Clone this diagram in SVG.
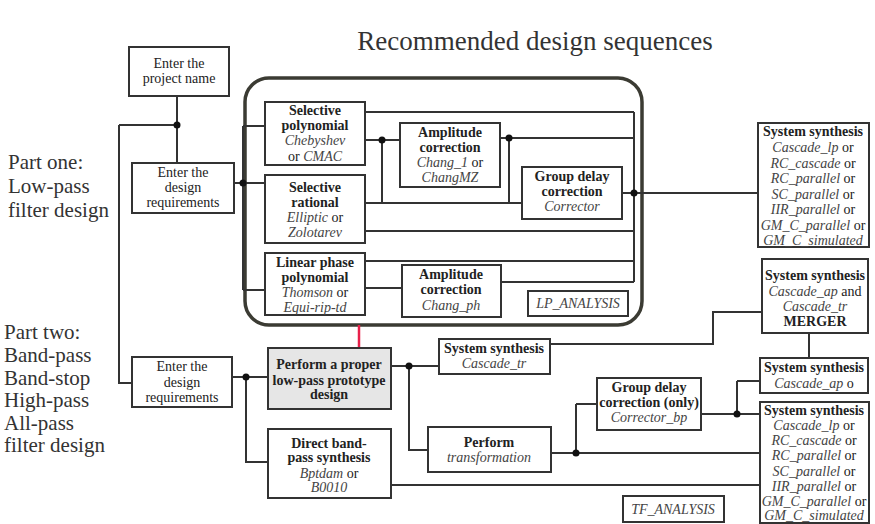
<svg xmlns="http://www.w3.org/2000/svg" width="875" height="524" viewBox="0 0 875 524">
  <style>
    text { font-family: "Liberation Serif", "Times New Roman", serif; fill: #222; }
    .box { fill: #fff; stroke: #333; stroke-width: 2; }
    .grey { fill: #e6e6e6; }
    .lbl { font-size: 14px; text-anchor: middle; }
    .b { font-weight: bold; }
    .i { font-style: italic; fill: #444; }
    .side { font-size: 21px; fill: #333; }
    .title { font-size: 27px; text-anchor: middle; fill: #333; }
    .wire { fill: none; stroke: #333; stroke-width: 2; }
    .dot { fill: #111; }
  </style>

  <text class="title" x="535" y="50">Recommended design sequences</text>

  <!-- section headings -->
  <text class="side" x="8" y="169">Part one:</text>
  <text class="side" x="8" y="193">Low-pass</text>
  <text class="side" x="8" y="217">filter design</text>
  <text class="side" x="4" y="339">Part two:</text>
  <text class="side" x="4" y="362">Band-pass</text>
  <text class="side" x="4" y="385">Band-stop</text>
  <text class="side" x="4" y="407">High-pass</text>
  <text class="side" x="4" y="430">All-pass</text>
  <text class="side" x="4" y="452">filter design</text>

  <!-- low-pass analysis frame -->
  <rect x="245" y="78" width="397" height="247" rx="24" fill="none" stroke="#3b3b33" stroke-width="3.5"/>

  <g id="connectors">
    <!-- project name to both requirement boxes -->
    <path class="wire" d="M177 96 V163 M119 125 H177 M119 125 V383 H132"/>
    <!-- low-pass requirements fan-out -->
    <path class="wire" d="M234 183 H265 M243 126 V290 M243 126 H265 M243 290 H265"/>
    <!-- approximation outputs -->
    <path class="wire" d="M365 112 H634 M365 140 H400 M382 140 V203 M365 203 H522 M500 138 H634 M509 138 V203 M365 231 H634 M365 261 H634 M365 288 H402 M501 282 H634 M634 112 V282 M622 193 H758"/>
    <!-- prototype link -->
    <path d="M359 325 V348" fill="none" stroke="#e8204a" stroke-width="2.5"/>
    <!-- part two -->
    <path class="wire" d="M232 377 H268 M246 377 V462 H268 M391 366 H439 M409 366 V450 H428 M550 344 H713 V312 H762 M809 333 V358 M551 453 H760 M576 404 V453 M576 404 H597 M701 414 H760 M737 381 V414 M737 381 H760 M391 485 H760"/>
    <circle class="dot" cx="177" cy="125" r="3.5"/>
    <circle class="dot" cx="243" cy="183" r="3.5"/>
    <circle class="dot" cx="382" cy="140" r="3.5"/>
    <circle class="dot" cx="509" cy="138" r="3.5"/>
    <circle class="dot" cx="634" cy="193" r="3.5"/>
    <circle class="dot" cx="246" cy="377" r="3.5"/>
    <circle class="dot" cx="409" cy="366" r="3.5"/>
    <circle class="dot" cx="576" cy="453" r="3.5"/>
    <circle class="dot" cx="737" cy="414" r="3.5"/>
  </g>

  <g id="project-name">
    <rect class="box" x="129" y="47" width="100" height="49"/>
    <text class="lbl" x="179" y="68">Enter the</text>
    <text class="lbl" x="179" y="83">project name</text>
  </g>

  <g id="lp-requirements">
    <rect class="box" x="132" y="163" width="102" height="50"/>
    <text class="lbl" x="183" y="177">Enter the</text>
    <text class="lbl" x="183" y="192">design</text>
    <text class="lbl" x="183" y="207">requirements</text>
  </g>

  <g id="selective-polynomial">
    <rect class="box" x="265" y="102" width="100" height="63"/>
    <text class="lbl b" x="315" y="115">Selective</text>
    <text class="lbl b" x="315" y="130">polynomial</text>
    <text class="lbl i" x="315" y="145">Chebyshev</text>
    <text class="lbl" x="315" y="161">or <tspan class="i">CMAC</tspan></text>
  </g>

  <g id="selective-rational">
    <rect class="box" x="265" y="175" width="100" height="68"/>
    <text class="lbl b" x="315" y="192">Selective</text>
    <text class="lbl b" x="315" y="207">rational</text>
    <text class="lbl" x="315" y="222"><tspan class="i">Elliptic</tspan> or</text>
    <text class="lbl i" x="315" y="237">Zolotarev</text>
  </g>

  <g id="linear-phase">
    <rect class="box" x="265" y="253" width="100" height="62"/>
    <text class="lbl b" x="315" y="267">Linear phase</text>
    <text class="lbl b" x="315" y="282">polynomial</text>
    <text class="lbl" x="315" y="297"><tspan class="i">Thomson</tspan> or</text>
    <text class="lbl i" x="315" y="312">Equi-rip-td</text>
  </g>

  <g id="amplitude-correction">
    <rect class="box" x="400" y="123" width="100" height="64"/>
    <text class="lbl b" x="450" y="137">Amplitude</text>
    <text class="lbl b" x="450" y="152">correction</text>
    <text class="lbl" x="450" y="167"><tspan class="i">Chang_1</tspan> or</text>
    <text class="lbl i" x="450" y="182">ChangMZ</text>
  </g>

  <g id="group-delay-correction">
    <rect class="box" x="522" y="167" width="100" height="52"/>
    <text class="lbl b" x="572" y="181">Group delay</text>
    <text class="lbl b" x="572" y="196">correction</text>
    <text class="lbl i" x="572" y="211">Corrector</text>
  </g>

  <g id="amplitude-correction-ph">
    <rect class="box" x="402" y="265" width="99" height="52"/>
    <text class="lbl b" x="451" y="279">Amplitude</text>
    <text class="lbl b" x="451" y="294">correction</text>
    <text class="lbl i" x="451" y="310">Chang_ph</text>
  </g>

  <g id="lp-analysis">
    <rect class="box" x="528" y="291" width="100" height="25"/>
    <text class="lbl i" x="578" y="308">LP_ANALYSIS</text>
  </g>

  <g id="lp-synthesis">
    <rect class="box" x="758" y="123" width="111" height="124"/>
    <text class="lbl b" x="813" y="136">System synthesis</text>
    <text class="lbl" x="813" y="152"><tspan class="i">Cascade_lp</tspan> or</text>
    <text class="lbl" x="813" y="168"><tspan class="i">RC_cascade</tspan>  or</text>
    <text class="lbl" x="813" y="183"><tspan class="i">RC_parallel</tspan> or</text>
    <text class="lbl" x="813" y="199"><tspan class="i">SC_parallel</tspan> or</text>
    <text class="lbl" x="813" y="214"><tspan class="i">IIR_parallel</tspan>  or</text>
    <text class="lbl" x="813" y="230"><tspan class="i">GM_C_parallel</tspan> or</text>
    <text class="lbl i" x="813" y="245">GM_C_simulated</text>
  </g>

  <g id="bp-requirements">
    <rect class="box" x="132" y="357" width="100" height="50"/>
    <text class="lbl" x="182" y="371">Enter the</text>
    <text class="lbl" x="182" y="387">design</text>
    <text class="lbl" x="182" y="402">requirements</text>
  </g>

  <g id="prototype-design">
    <rect class="box grey" x="268" y="348" width="123" height="61"/>
    <text class="lbl b" x="329" y="369">Perform a proper</text>
    <text class="lbl b" x="329" y="385">low-pass prototype</text>
    <text class="lbl b" x="329" y="399">design</text>
  </g>

  <g id="direct-bandpass">
    <rect class="box" x="268" y="429" width="123" height="69"/>
    <text class="lbl b" x="329" y="448">Direct band-</text>
    <text class="lbl b" x="329" y="462">pass synthesis</text>
    <text class="lbl" x="329" y="478"><tspan class="i">Bptdam</tspan> or</text>
    <text class="lbl i" x="329" y="492">B0010</text>
  </g>

  <g id="cascade-tr">
    <rect class="box" x="439" y="339" width="111" height="35"/>
    <text class="lbl b" x="494" y="353">System synthesis</text>
    <text class="lbl i" x="494" y="368">Cascade_tr</text>
  </g>

  <g id="transformation">
    <rect class="box" x="428" y="427" width="123" height="45"/>
    <text class="lbl b" x="489" y="447">Perform</text>
    <text class="lbl i" x="489" y="462">transformation</text>
  </g>

  <g id="group-delay-only">
    <rect class="box" x="597" y="378" width="104" height="52"/>
    <text class="lbl b" x="649" y="392">Group delay</text>
    <text class="lbl b" x="649" y="407">correction (only)</text>
    <text class="lbl i" x="649" y="422">Corrector_bp</text>
  </g>

  <g id="merger">
    <rect class="box" x="762" y="259" width="106" height="74"/>
    <text class="lbl b" x="815" y="280">System synthesis</text>
    <text class="lbl" x="815" y="296"><tspan class="i">Cascade_ap</tspan> and</text>
    <text class="lbl i" x="815" y="311">Cascade_tr</text>
    <text class="lbl b" x="815" y="326">MERGER</text>
  </g>

  <g id="cascade-ap">
    <rect class="box" x="760" y="358" width="108" height="35"/>
    <text class="lbl b" x="814" y="372">System synthesis</text>
    <text class="lbl" x="814" y="388"><tspan class="i">Cascade_ap</tspan> o</text>
  </g>

  <g id="bp-synthesis">
    <rect class="box" x="760" y="402" width="109" height="121"/>
    <text class="lbl b" x="814" y="415">System synthesis</text>
    <text class="lbl" x="814" y="430"><tspan class="i">Cascade_lp</tspan> or</text>
    <text class="lbl" x="814" y="445"><tspan class="i">RC_cascade</tspan>  or</text>
    <text class="lbl" x="814" y="460"><tspan class="i">RC_parallel</tspan> or</text>
    <text class="lbl" x="814" y="476"><tspan class="i">SC_parallel</tspan> or</text>
    <text class="lbl" x="814" y="491"><tspan class="i">IIR_parallel</tspan>  or</text>
    <text class="lbl" x="814" y="506"><tspan class="i">GM_C_parallel</tspan> or</text>
    <text class="lbl i" x="814" y="520">GM_C_simulated</text>
  </g>

  <g id="tf-analysis">
    <rect class="box" x="623" y="496" width="101" height="26"/>
    <text class="lbl i" x="673" y="514">TF_ANALYSIS</text>
  </g>
</svg>
